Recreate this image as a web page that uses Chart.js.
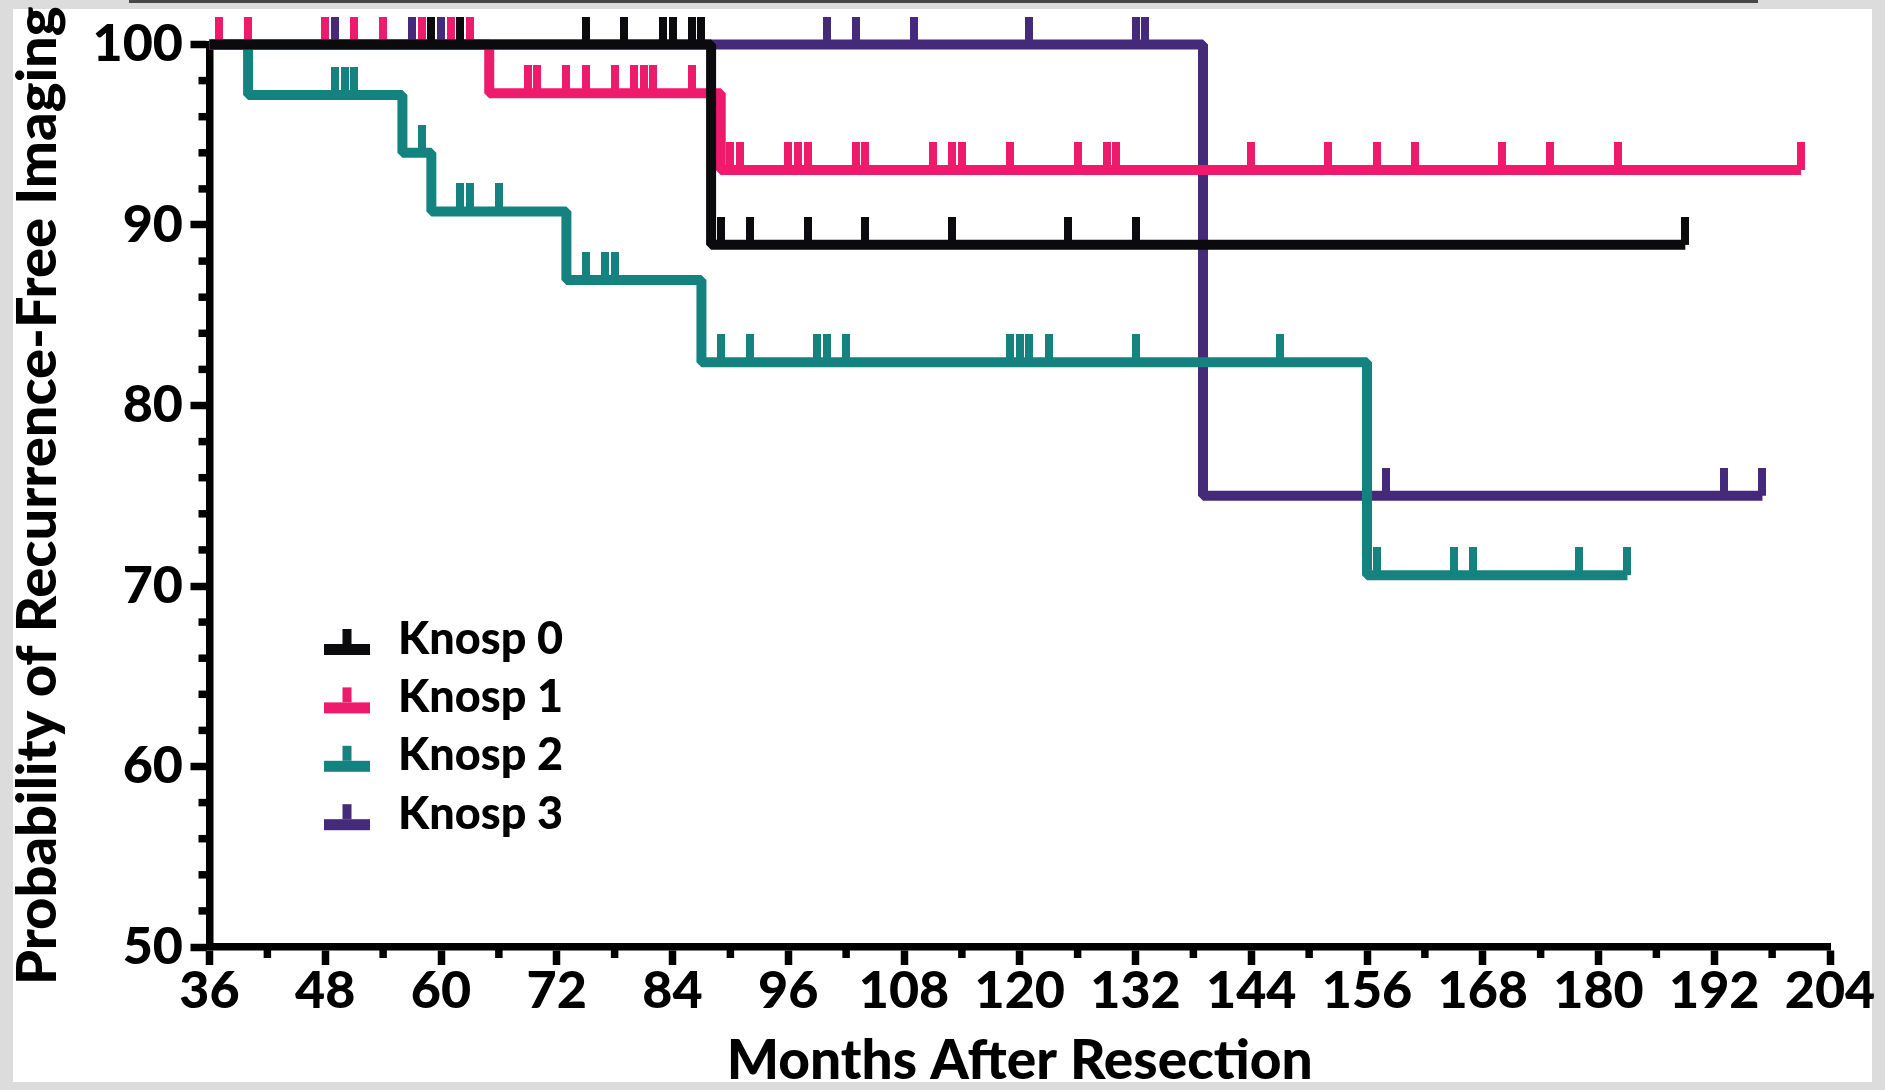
<!DOCTYPE html>
<html>
<head>
<meta charset="utf-8">
<script src="https://cdn.jsdelivr.net/npm/chart.js@4.4.1/dist/chart.umd.min.js"></script>
<style>
  html, body { margin: 0; padding: 0; background: #dcdcdc; }
  canvas { display: block; }
</style>
</head>
<body>
<canvas id="kmChart" width="1885" height="1090"></canvas>
<script>
const groups = ['Knosp 0', 'Knosp 1', 'Knosp 2', 'Knosp 3'];
const colors = ['#0b0b0e', '#ee1a6c', '#148380', '#442a78'];

// months where the estimate changes, and the value from that month on
const knosp0Months = [36, 88, 189];
const knosp0Values = [100, 88.9, 88.9];
const knosp0Censored = [59, 62, 75, 79, 83, 84, 86, 87, 89, 92, 98, 104, 113, 125, 132, 189];

const knosp1Months = [36, 65, 89, 201];
const knosp1Values = [100, 97.3, 93.05, 93.05];
const knosp1Censored = [37, 40, 48, 51, 54, 58, 61, 63, 69, 70, 73, 75, 78, 80, 81, 82, 86,
  90, 91, 96, 97, 98, 103, 104, 111, 113, 114, 119, 126, 129, 130, 144, 152, 157, 161, 170, 175, 182, 201];

const knosp2Months = [36, 40, 56, 59, 73, 87, 156, 183];
const knosp2Values = [100, 97.2, 94.0, 90.75, 86.95, 82.4, 70.6, 70.6];
const knosp2Censored = [49, 50, 51, 58, 62, 63, 66, 75, 77, 78, 89, 92, 99, 100, 102,
  119, 120, 121, 123, 132, 147, 157, 165, 167, 178, 183];

const knosp3Months = [36, 139, 197];
const knosp3Values = [100, 75, 75];
const knosp3Censored = [49, 57, 60, 100, 103, 109, 121, 132, 133, 158, 193, 197];

const xMinorTicks = [42, 54, 66, 78, 90, 102, 114, 126, 138, 150, 162, 174, 186, 198];
const yMinorTicks = [52, 54, 56, 58, 62, 64, 66, 68, 72, 74, 76, 78, 82, 84, 86, 88, 92, 94, 96, 98];

const FONT = 'Lato, "Open Sans", sans-serif';
const WEIGHT = 900;

const curves = [
  { months: knosp0Months, values: knosp0Values, censored: knosp0Censored },
  { months: knosp1Months, values: knosp1Values, censored: knosp1Censored },
  { months: knosp2Months, values: knosp2Values, censored: knosp2Censored },
  { months: knosp3Months, values: knosp3Values, censored: knosp3Censored }
];

function stepValue(months, values, t) {
  let v = values[0];
  for (let i = 0; i < months.length; i++) {
    if (months[i] <= t) v = values[i];
  }
  return v;
}

// censor tick: bar only above the point
function censorMark(color) {
  const c = document.createElement('canvas');
  c.width = 8;
  c.height = 56;
  const g = c.getContext('2d');
  g.fillStyle = color;
  g.fillRect(0, 0, 8, 28);
  return c;
}

const datasets = [];
curves.forEach((c, i) => {
  datasets.push({
    label: groups[i],
    data: c.months.map((m, j) => ({ x: m, y: c.values[j] })),
    borderColor: colors[i],
    borderWidth: 10,
    stepped: 'before',
    pointRadius: 0,
    borderJoinStyle: 'bevel',
    borderCapStyle: 'butt',
    fill: false,
    clip: false,
    order: i * 2 + 1
  });
  datasets.push({
    label: groups[i] + ' censored',
    data: c.censored.map(m => ({ x: m, y: stepValue(c.months, c.values, m) })),
    showLine: false,
    pointStyle: censorMark(colors[i]),
    pointRadius: 4,
    clip: false,
    order: i * 2
  });
});

const pagePlugin = {
  id: 'page',
  beforeDraw(chart) {
    const ctx = chart.ctx;
    ctx.save();
    ctx.fillStyle = '#dcdcdc';
    ctx.fillRect(0, 0, chart.width, chart.height);
    ctx.fillStyle = '#ffffff';
    ctx.fillRect(13, 9, 1859, 1073);
    ctx.fillStyle = '#474747';
    ctx.fillRect(129, 0, 1629, 3);
    ctx.restore();
  }
};

const minorTicksPlugin = {
  id: 'minorTicks',
  afterDraw(chart) {
    const ctx = chart.ctx;
    const xs = chart.scales.x;
    const ys = chart.scales.y;
    const area = chart.chartArea;
    ctx.save();
    ctx.strokeStyle = '#000';
    ctx.lineWidth = 7.5;
    ctx.lineCap = 'butt';
    yMinorTicks.forEach(v => {
      const py = ys.getPixelForValue(v);
      ctx.beginPath();
      ctx.moveTo(area.left - 11, py);
      ctx.lineTo(area.left, py);
      ctx.stroke();
    });
    xMinorTicks.forEach(v => {
      const px = xs.getPixelForValue(v);
      ctx.beginPath();
      ctx.moveTo(px, area.bottom);
      ctx.lineTo(px, area.bottom + 11);
      ctx.stroke();
    });
    ctx.restore();
  }
};

const legendPlugin = {
  id: 'kmLegend',
  afterDraw(chart) {
    const ctx = chart.ctx;
    ctx.save();
    ctx.font = WEIGHT + ' 45px ' + FONT;
    ctx.textBaseline = 'alphabetic';
    groups.forEach((name, i) => {
      const cy = 649.5 + i * 58.4;
      ctx.fillStyle = colors[i];
      ctx.fillRect(324, cy - 5.5, 46, 11);
      ctx.fillRect(342.5, cy - 20.5, 9, 15);
      ctx.fillStyle = '#000';
      ctx.fillText(name, 398, cy + 4);
    });
    ctx.restore();
  }
};

new Chart(document.getElementById('kmChart'), {
  type: 'line',
  data: { datasets },
  options: {
    responsive: false,
    animation: false,
    events: [],
    layout: { padding: { top: 44.5, right: 55, left: 0, bottom: 0 } },
    scales: {
      x: {
        type: 'linear',
        min: 36,
        max: 204,
        afterFit: s => { s.height = 143; },
        ticks: {
          stepSize: 12,
          autoSkip: false,
          maxRotation: 0,
          padding: 0,
          color: '#000',
          font: { family: FONT, size: 52, weight: WEIGHT, lineHeight: 1 }
        },
        grid: { drawOnChartArea: false, drawTicks: true, tickLength: 18, tickWidth: 7.5, tickColor: '#000', color: '#000' },
        border: { display: true, width: 7.5, color: '#000' },
        title: {
          display: true,
          text: 'Months After Resection',
          color: '#000',
          font: { family: FONT, size: 55, weight: WEIGHT, lineHeight: 1 },
          padding: { top: 0, bottom: 1 }
        }
      },
      y: {
        type: 'linear',
        min: 50,
        max: 100,
        afterFit: s => { s.width = 209.5; },
        ticks: {
          stepSize: 10,
          padding: 7.5,
          color: '#000',
          font: { family: FONT, size: 52, weight: WEIGHT, lineHeight: 1 }
        },
        grid: { drawOnChartArea: false, drawTicks: true, tickLength: 19, tickWidth: 7.5, tickColor: '#000', color: '#000' },
        border: { display: true, width: 7.5, color: '#000' },
        title: {
          display: true,
          text: 'Probability of Recurrence-Free Imaging',
          color: '#000',
          font: { family: FONT, size: 56, weight: WEIGHT, lineHeight: 1 },
          padding: { top: 10, bottom: 0 }
        }
      }
    },
    plugins: {
      legend: { display: false },
      tooltip: { enabled: false }
    }
  },
  plugins: [pagePlugin, minorTicksPlugin, legendPlugin]
});
</script>
</body>
</html>
